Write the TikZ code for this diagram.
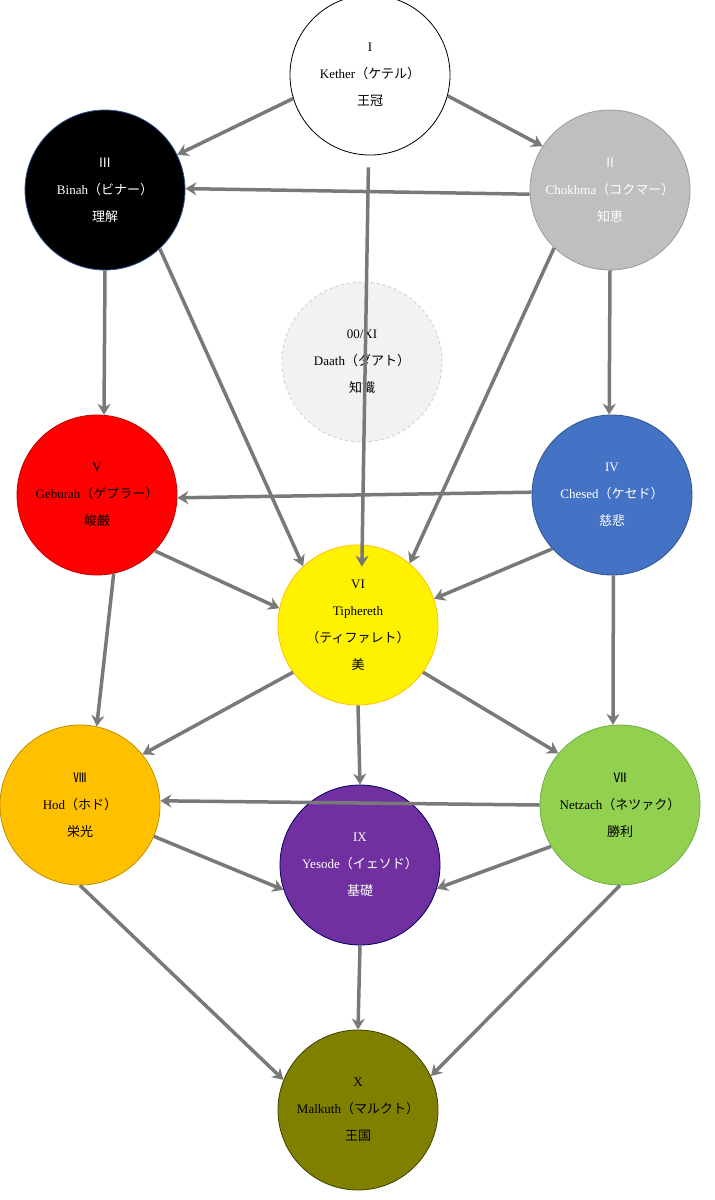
\documentclass[tikz,border=0pt]{standalone}
\usepackage{fontspec}
\usetikzlibrary{arrows.meta}
\setmainfont{Liberation Serif}
\newfontfamily\jp{Noto Sans CJK JP}
\begin{document}
\begin{tikzpicture}[x=1pt,y=-1pt,
  sef/.style={circle,minimum size=160pt,inner sep=0pt,align=center,line width=0.8pt,font=\fontsize{13}{27}\selectfont},
  arr/.style={draw=gray!95!black,line width=3.5pt,-{Stealth[length=11pt,width=13pt]}}]
\useasboundingbox (0,0) rectangle (715,1200);
\node[sef,draw=black,fill=white] (K) at (370,75) {I\\Kether{\jp（ケテル）}\\{\jp 王冠}};
\node[sef,draw={rgb,255:red,47;green,82;blue,143},fill=black,text=white] (B) at (105,190) {{\jp Ⅲ}\\Binah{\jp（ビナー）}\\{\jp 理解}};
\node[sef,draw=gray!80,fill={rgb,255:red,191;green,191;blue,191},text=white] (C) at (610,190) {{\jp Ⅱ}\\Chokhma{\jp（コクマー）}\\{\jp 知恵}};
\node[sef,draw=gray!40,dashed,fill={rgb,255:red,242;green,242;blue,242}] (D) at (362,362) {00/XI\\Daath{\jp（ダアト）}\\{\jp 知識}};
\node[sef,draw={rgb,255:red,192;green,0;blue,0},fill=red] (G) at (97,495) {V\\Geburah{\jp（ゲブラー）}\\{\jp 峻厳}};
\node[sef,draw={rgb,255:red,47;green,82;blue,143},fill={rgb,255:red,68;green,114;blue,196},text=white] (Ch) at (612,495) {IV\\Chesed{\jp（ケセド）}\\{\jp 慈悲}};
\node[sef,draw={rgb,255:red,255;green,192;blue,0},fill=yellow] (T) at (358,625) {VI\\Tiphereth\\{\jp（ティファレト）}\\{\jp 美}};
\node[sef,draw={rgb,255:red,191;green,144;blue,0},fill={rgb,255:red,255;green,192;blue,0}] (H) at (80,805) {{\jp Ⅷ}\\Hod{\jp（ホド）}\\{\jp 栄光}};
\node[sef,draw={rgb,255:red,112;green,173;blue,71},fill={rgb,255:red,146;green,208;blue,80}] (N) at (620,805) {{\jp Ⅶ}\\Netzach{\jp（ネツァク）}\\{\jp 勝利}};
\node[sef,draw={rgb,255:red,0;green,0;blue,96},fill={rgb,255:red,112;green,48;blue,160},text=white] (Y) at (360,865) {IX\\Yesode{\jp（イェソド）}\\{\jp 基礎}};
\node[sef,draw={rgb,255:red,64;green,64;blue,0},fill={rgb,255:red,128;green,128;blue,0}] (M) at (358,1110) {X\\Malkuth{\jp（マルクト）}\\{\jp 王国}};
\draw[arr] (K.197) -- (B.26);
\draw[arr] (K.345) -- (C.147);
\draw[arr] (C.183) -- (B.1);
\draw[arr,shorten <=12pt,shorten >=-22pt] (K.-91) -- (T.87);
\draw[arr] (B.-47) -- (T.133);
\draw[arr] (C.226) -- (T.50);
\draw[arr] (B.-90) -- (G.85);
\draw[arr] (C.-90) -- (Ch.92);
\draw[arr] (Ch.178) -- (G.-2);
\draw[arr] (G.-44) -- (T.168);
\draw[arr] (Ch.222) -- (T.19);
\draw[arr] (G.-78) -- (H.78);
\draw[arr] (Ch.-89) -- (N.95);
\draw[arr] (T.216) -- (H.39);
\draw[arr] (T.-36) -- (N.140);
\draw[arr] (T.-90) -- (Y.90);
\draw[arr] (N.180) -- (H.3);
\draw[arr] (H.-23) -- (Y.198);
\draw[arr] (N.211) -- (Y.-17);
\draw[arr] (H.-90) -- (M.158);
\draw[arr] (Y.-90) -- (M.90);
\draw[arr] (N.-90) -- (M.25);
\end{tikzpicture}
\end{document}
